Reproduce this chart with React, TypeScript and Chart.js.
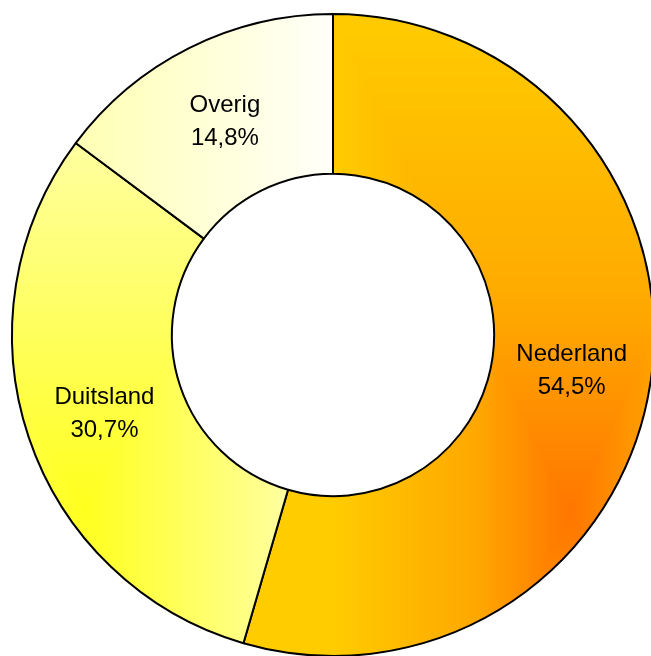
import React, { useEffect, useRef } from 'react';
import { Chart, registerables } from 'chart.js';

Chart.register(...registerables);

// ---- data ----
const categories = ['Nederland', 'Duitsland', 'Overig'];
const shares = [54.5, 30.7, 14.8];

// ---- style ----
const CANVAS_W = 651;
const CANVAS_H = 656;
const OUTER_RADIUS = 321;
const CUTOUT_FRACTION = 0.502;
const fallbackColors = ['#FFAA00', '#FFFF66', '#FFFFDD'];

type Stop = [number, [number, number, number]];
interface GradStyle { stops: Stop[]; focus: [number, number]; extent: [number, number]; }

// rectangular "path" gradients, focus/extent relative to the slice bounding box
const gradientStyles: GradStyle[] = [
  { stops: [[0, [255, 118, 0]], [0.4, [255, 168, 0]], [1, [255, 204, 0]]], focus: [0.796, 0.777], extent: [0.577, 0.777] },
  { stops: [[0, [255, 255, 30]], [1, [255, 255, 160]]], focus: [0.257, 0.728], extent: [0.743, 0.728] },
  { stops: [[0, [255, 255, 180]], [1, [255, 255, 250]]], focus: [0.02, 0.6], extent: [0.98, 2.0] },
];

const patternCache = new Map<string, CanvasPattern>();

function sectorBox(cx: number, cy: number, r0: number, r1: number, a0: number, a1: number) {
  const pts: number[][] = [];
  for (const r of [r0, r1]) for (const a of [a0, a1]) pts.push([cx + r * Math.cos(a), cy + r * Math.sin(a)]);
  const q = Math.PI / 2;
  for (let k = Math.ceil(a0 / q); k * q <= a1; k++) {
    const a = k * q;
    pts.push([cx + r1 * Math.cos(a), cy + r1 * Math.sin(a)]);
  }
  const xs = pts.map((p) => p[0]);
  const ys = pts.map((p) => p[1]);
  return { left: Math.min(...xs), right: Math.max(...xs), top: Math.min(...ys), bottom: Math.max(...ys) };
}

function colorAt(stops: Stop[], t: number): [number, number, number] {
  if (t <= stops[0][0]) return stops[0][1];
  for (let i = 1; i < stops.length; i++) {
    if (t <= stops[i][0]) {
      const [t0, c0] = stops[i - 1];
      const [t1, c1] = stops[i];
      const u = (t - t0) / (t1 - t0);
      return [c0[0] + (c1[0] - c0[0]) * u, c0[1] + (c1[1] - c0[1]) * u, c0[2] + (c1[2] - c0[2]) * u];
    }
  }
  return stops[stops.length - 1][1];
}

function sliceFill(ctx: any) {
  const i = ctx.dataIndex;
  const chart = ctx.chart;
  const area = chart.chartArea;
  if (i === undefined || !area || typeof document === 'undefined') return fallbackColors[i ?? 0];
  const key = `${i}-${area.left}-${area.top}-${area.right}-${area.bottom}`;
  const cached = patternCache.get(key);
  if (cached) return cached;
  const data: number[] = ctx.dataset.data;
  const total = data.reduce((a, b) => a + b, 0);
  let before = 0;
  for (let k = 0; k < i; k++) before += data[k];
  const a0 = -Math.PI / 2 + (before / total) * Math.PI * 2;
  const a1 = a0 + (data[i] / total) * Math.PI * 2;
  const cx = (area.left + area.right) / 2;
  const cy = (area.top + area.bottom) / 2;
  const box = sectorBox(cx, cy, OUTER_RADIUS * CUTOUT_FRACTION, OUTER_RADIUS, a0, a1);
  const st = gradientStyles[i];
  const bw = box.right - box.left;
  const bh = box.bottom - box.top;
  const fx = box.left + st.focus[0] * bw;
  const fy = box.top + st.focus[1] * bh;
  const ex = st.extent[0] * bw;
  const ey = st.extent[1] * bh;
  const off = document.createElement('canvas');
  off.width = chart.width;
  off.height = chart.height;
  const octx = off.getContext('2d')!;
  const img = octx.createImageData(off.width, off.height);
  const x0 = Math.max(0, Math.floor(box.left) - 3);
  const x1 = Math.min(off.width - 1, Math.ceil(box.right) + 3);
  const y0 = Math.max(0, Math.floor(box.top) - 3);
  const y1 = Math.min(off.height - 1, Math.ceil(box.bottom) + 3);
  for (let y = y0; y <= y1; y++) {
    for (let x = x0; x <= x1; x++) {
      const t = Math.min(1, Math.max(Math.abs(x + 0.5 - fx) / ex, Math.abs(y + 0.5 - fy) / ey));
      const c = colorAt(st.stops, t);
      const p = (y * off.width + x) * 4;
      img.data[p] = c[0];
      img.data[p + 1] = c[1];
      img.data[p + 2] = c[2];
      img.data[p + 3] = 255;
    }
  }
  octx.putImageData(img, 0, 0);
  const pattern = chart.ctx.createPattern(off, 'no-repeat');
  if (!pattern) return fallbackColors[i];
  patternCache.set(key, pattern);
  return pattern;
}

const labelPlugin = {
  id: 'sliceLabels',
  afterDatasetsDraw(chart: any) {
    const meta = chart.getDatasetMeta(0);
    const c = chart.ctx;
    c.save();
    c.font = '24px "Liberation Sans", Arial, sans-serif';
    c.fillStyle = '#000000';
    c.textAlign = 'center';
    c.textBaseline = 'alphabetic';
    meta.data.forEach((arc: any, i: number) => {
      const { x, y } = arc.getCenterPoint();
      const pct = shares[i].toFixed(1).replace('.', ',') + '%';
      c.fillText(categories[i], x, y - 8);
      c.fillText(pct, x, y + 25);
    });
    c.restore();
  },
};

export default function App() {
  const ref = useRef<HTMLCanvasElement | null>(null);
  useEffect(() => {
    if (!ref.current) return;
    const chart = new Chart(ref.current, {
      type: 'doughnut',
      data: {
        labels: categories,
        datasets: [
          {
            data: shares,
            backgroundColor: sliceFill,
            borderColor: '#000000',
            borderWidth: 2,
          },
        ],
      },
      options: {
        responsive: false,
        animation: false,
        events: [],
        radius: OUTER_RADIUS,
        cutout: `${CUTOUT_FRACTION * 100}%`,
        layout: { padding: { left: 15, top: 14, right: 0, bottom: 0 } },
        plugins: { legend: { display: false }, tooltip: { enabled: false } },
      } as any,
      plugins: [labelPlugin],
    });
    return () => chart.destroy();
  }, []);
  return (
    <div style={{ position: 'absolute', left: 0, top: 0, width: CANVAS_W, height: CANVAS_H, background: '#fff' }}>
      <canvas ref={ref} width={CANVAS_W} height={CANVAS_H} style={{ display: 'block' }} />
    </div>
  );
}
